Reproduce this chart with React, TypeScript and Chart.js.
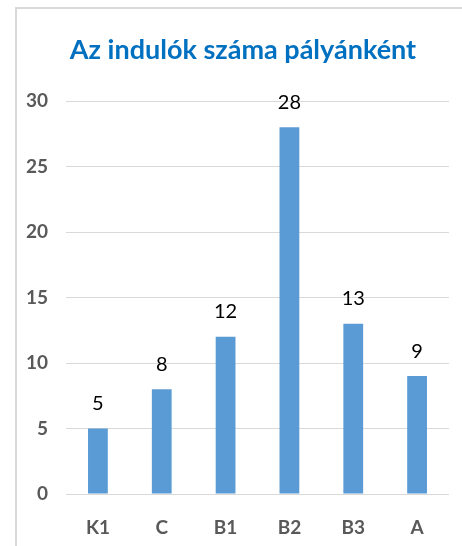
import React, { useEffect, useRef } from "react";
import { Chart, registerables } from "chart.js";

Chart.register(...registerables);

const categories = ["K1", "C", "B1", "B2", "B3", "A"];
const values = [5, 8, 12, 28, 13, 9];
const yTicks = [0, 5, 10, 15, 20, 25, 30];
const titleText = "Az indulók száma pályánként";

const FONT = "'Liberation Sans Narrow', 'Arial Narrow', Lato, sans-serif";

const framePlugin = {
  id: "frame",
  beforeDraw(chart: any) {
    const ctx = chart.ctx;
    ctx.save();
    ctx.fillStyle = "#ffffff";
    ctx.fillRect(0, 0, chart.width, chart.height);
    ctx.fillStyle = "#d9d9d9";
    ctx.fillRect(15, 7, 2, chart.height - 7);
    ctx.fillRect(15, 7, chart.width - 15, 2);
    ctx.restore();
  },
  afterDraw(chart: any) {
    const ctx = chart.ctx;
    ctx.save();
    ctx.fillStyle = "#0070C0";
    ctx.font = `bold 27px ${FONT}`;
    ctx.textAlign = "center";
    ctx.textBaseline = "middle";
    ctx.fillText(titleText, 243, 50);
    ctx.restore();
  },
};

const labelPlugin = {
  id: "barLabels",
  afterDatasetsDraw(chart: any) {
    const ctx = chart.ctx;
    const meta = chart.getDatasetMeta(0);
    ctx.save();
    ctx.fillStyle = "#000000";
    ctx.font = `20px ${FONT}`;
    ctx.textAlign = "center";
    ctx.textBaseline = "bottom";
    meta.data.forEach((bar: any, i: number) => {
      ctx.fillText(String(values[i]), bar.x, bar.y - 15);
    });
    ctx.restore();
  },
};

export default function App() {
  const ref = useRef<HTMLCanvasElement | null>(null);
  useEffect(() => {
    if (!ref.current) return;
    const chart = new Chart(ref.current, {
      type: "bar",
      data: {
        labels: categories,
        datasets: [
          {
            data: values,
            backgroundColor: "#5B9BD5",
            barPercentage: 0.31,
            categoryPercentage: 1,
          },
        ],
      },
      options: {
        responsive: false,
        animation: false,
        devicePixelRatio: 1,
        layout: { padding: { top: 101, right: 13, left: 0, bottom: 0 } },
        plugins: {
          legend: { display: false },
          title: { display: false },
          tooltip: { enabled: false },
        },
        scales: {
          x: {
            afterFit(scale: any) {
              scale.height = 52;
            },
            grid: { display: false, drawTicks: false },
            border: { display: false },
            ticks: {
              color: "#595959",
              font: { family: FONT, size: 19, weight: "bold" },
              padding: 22,
            },
          },
          y: {
            min: 0,
            max: 30,
            afterFit(scale: any) {
              scale.width = 66;
            },
            afterBuildTicks(scale: any) {
              scale.ticks = yTicks.map((v) => ({ value: v }));
            },
            grid: { color: "#d9d9d9", lineWidth: 1, drawTicks: false },
            border: { display: false },
            ticks: {
              color: "#595959",
              font: { family: FONT, size: 19, weight: "bold" },
              padding: 18,
            },
          },
        },
      },
      plugins: [framePlugin, labelPlugin],
    });
    return () => chart.destroy();
  }, []);
  return (
    <div style={{ position: "absolute", left: 0, top: 0, width: 462, height: 546 }}>
      <canvas ref={ref} width={462} height={546} style={{ display: "block" }} />
    </div>
  );
}
